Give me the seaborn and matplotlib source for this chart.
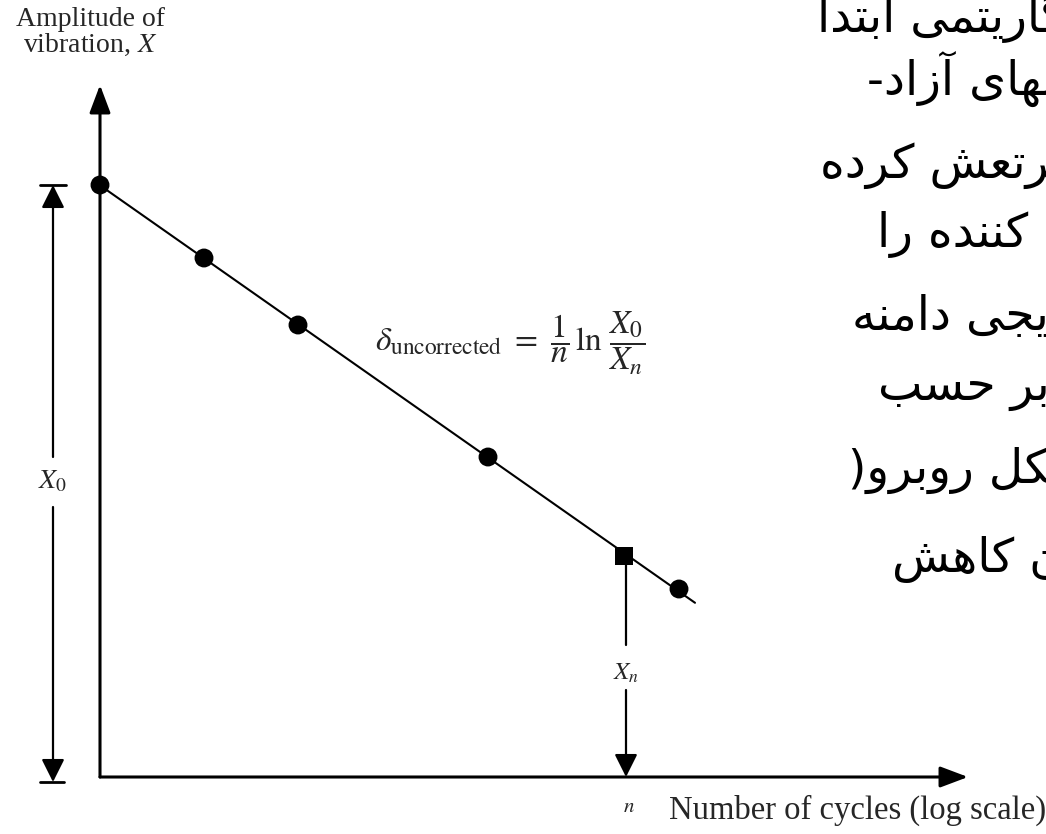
import numpy as np
import pandas as pd
import matplotlib
matplotlib.use("Agg")
import matplotlib.pyplot as plt
import seaborn as sns

# Free-decay record: cycle position (log scale) and peak amplitude
cycles = [0.0, 1.04, 1.98, 3.88, 5.24, 5.79]
amplitude = [5.92, 5.19, 4.52, 3.20, 2.21, 1.88]
point_kind = ["peak", "peak", "peak", "peak", "n", "peak"]
n_index = 4          # the n-th cycle, where X_n is read
fit_end = 5.95       # the fitted line runs a little past the last peak

y_label = "Amplitude of\nvibration, $X$"
x_label = "Number of cycles (log scale)"
n_label = "$n$"
x0_label = "$X_0$"
xn_label = "$X_n$"
formula = r"$\delta_{\mathrm{uncorrected}}\ =\ \dfrac{1}{n}\,\ln\,\dfrac{X_0}{X_n}$"

side_lines = [
    "لگاریتمی ابتدا",
    "ارتعاشهای آزاد-",
    "مرتعش کرده",
    "کننده را",
    "تدریجی دامنه",
    "بر حسب",
    "(شکل روبرو)",
    "میزان کاهش",
]
side_left_px = [817, 867, 820, 877, 852, 878, 848, 892]
side_base_px = [32, 95, 178, 247, 330, 400, 483, 572]

# Contextual forms for the Persian letters used (isolated, final, initial, medial)
FORMS = {
    "ا": ("\uFE8D", "\uFE8E", None, None),
    "آ": ("\uFE81", "\uFE82", None, None),
    "ب": ("\uFE8F", "\uFE90", "\uFE91", "\uFE92"),
    "پ": ("\uFB56", "\uFB57", "\uFB58", "\uFB59"),
    "ت": ("\uFE95", "\uFE96", "\uFE97", "\uFE98"),
    "ج": ("\uFE9D", "\uFE9E", "\uFE9F", "\uFEA0"),
    "ح": ("\uFEA1", "\uFEA2", "\uFEA3", "\uFEA4"),
    "د": ("\uFEA9", "\uFEAA", None, None),
    "ر": ("\uFEAD", "\uFEAE", None, None),
    "ز": ("\uFEAF", "\uFEB0", None, None),
    "س": ("\uFEB1", "\uFEB2", "\uFEB3", "\uFEB4"),
    "ش": ("\uFEB5", "\uFEB6", "\uFEB7", "\uFEB8"),
    "ع": ("\uFEC9", "\uFECA", "\uFECB", "\uFECC"),
    "ک": ("\uFB8E", "\uFB8F", "\uFB90", "\uFB91"),
    "گ": ("\uFB92", "\uFB93", "\uFB94", "\uFB95"),
    "ل": ("\uFEDD", "\uFEDE", "\uFEDF", "\uFEE0"),
    "م": ("\uFEE1", "\uFEE2", "\uFEE3", "\uFEE4"),
    "ن": ("\uFEE5", "\uFEE6", "\uFEE7", "\uFEE8"),
    "ه": ("\uFEE9", "\uFEEA", "\uFEEB", "\uFEEC"),
    "و": ("\uFEED", "\uFEEE", None, None),
    "ی": ("\uFBFC", "\uFBFD", "\uFBFE", "\uFBFF"),
}


def shape_rtl(text):
    """Join Persian letters into their contextual forms and lay them out right-to-left."""
    out = []
    for i, ch in enumerate(text):
        forms = FORMS.get(ch)
        if forms is None:
            out.append(ch)
            continue
        prev = text[i - 1] if i > 0 else ""
        nxt = text[i + 1] if i + 1 < len(text) else ""
        joins_prev = prev in FORMS and FORMS[prev][2] is not None
        joins_next = forms[2] is not None and nxt in FORMS
        if joins_prev and joins_next:
            out.append(forms[3])
        elif joins_prev:
            out.append(forms[1])
        elif joins_next:
            out.append(forms[2])
        else:
            out.append(forms[0])
    return "".join(reversed(out))


sns.set_theme(style="white")
plt.rcParams["font.family"] = ["Liberation Serif", "DejaVu Serif"]
plt.rcParams["mathtext.fontset"] = "stix"

W, H = 1046, 834
fig = plt.figure(figsize=(W / 100, H / 100), dpi=100)
ax = fig.add_axes([0, 0, 1, 1])
ax.set_xlim(-1.00, 9.46)
ax.set_ylim(-0.57, 7.77)
ax.axis("off")

df = pd.DataFrame({"cycles": cycles, "amplitude": amplitude, "kind": point_kind})

# straight-line fit of the decay
slope, intercept = np.polyfit(df["cycles"], df["amplitude"], 1)
fit = pd.DataFrame({"cycles": [cycles[0], fit_end]})
fit["amplitude"] = intercept + slope * fit["cycles"]
sns.lineplot(data=fit, x="cycles", y="amplitude", color="black", lw=1.5, ax=ax)

sns.scatterplot(data=df, x="cycles", y="amplitude", style="kind",
                markers={"peak": "o", "n": "s"}, s=185,
                color="black", edgecolor="black", linewidth=0, legend=False,
                ax=ax, zorder=3)

head = "-|>,head_length=0.85,head_width=0.32"
axis_kw = dict(arrowstyle=head, color="black", lw=2.2, shrinkA=0, shrinkB=0,
               mutation_scale=20)
# coordinate axes
ax.annotate("", xy=(0, 6.92), xytext=(0, 0), arrowprops=axis_kw)
ax.annotate("", xy=(8.68, 0), xytext=(0, 0), arrowprops=axis_kw)

dim_kw = dict(arrowstyle="-|>,head_length=0.7,head_width=0.35", color="black",
              lw=1.6, shrinkA=0, shrinkB=0, mutation_scale=20)

# X0 dimension line to the left of the axis
x_dim = -0.47
x0 = amplitude[0]
ax.annotate("", xy=(x_dim, x0), xytext=(x_dim, 3.20), arrowprops=dim_kw)
ax.annotate("", xy=(x_dim, -0.05), xytext=(x_dim, 2.70), arrowprops=dim_kw)
ax.plot([x_dim - 0.13, x_dim + 0.13], [x0, x0], color="black", lw=2.0)
ax.plot([x_dim - 0.13, x_dim + 0.11], [-0.05, -0.05], color="black", lw=2.0)
ax.text(x_dim, 2.95, x0_label, ha="center", va="center", fontsize=20)

# X_n drop line at cycle n
xn_pos = cycles[n_index] + 0.02
ax.plot([xn_pos, xn_pos], [amplitude[n_index], 1.32], color="black", lw=1.6)
ax.annotate("", xy=(xn_pos, 0), xytext=(xn_pos, 0.87), arrowprops=dim_kw)
ax.text(xn_pos, 1.04, xn_label, ha="center", va="center", fontsize=18)

# axis titles
ax.text(-0.10, 7.70, y_label, ha="center", va="top", fontsize=20,
        linespacing=1.0, multialignment="center")
ax.text(cycles[n_index] + 0.05, -0.30, n_label, ha="center", va="center", fontsize=15)
ax.text(5.69, -0.42, x_label, ha="left", va="baseline", fontsize=23.5)

ax.text(2.75, 4.34, formula, ha="left", va="center", fontsize=24)

# Persian side note, running off the right edge
for line, lx, by in zip(side_lines, side_left_px, side_base_px):
    fig.text(lx / W, 1 - by / H, shape_rtl(line), ha="left", va="baseline",
             fontsize=34, family=["DejaVu Sans"], color="black")

fig.savefig("out.png", dpi=100)
